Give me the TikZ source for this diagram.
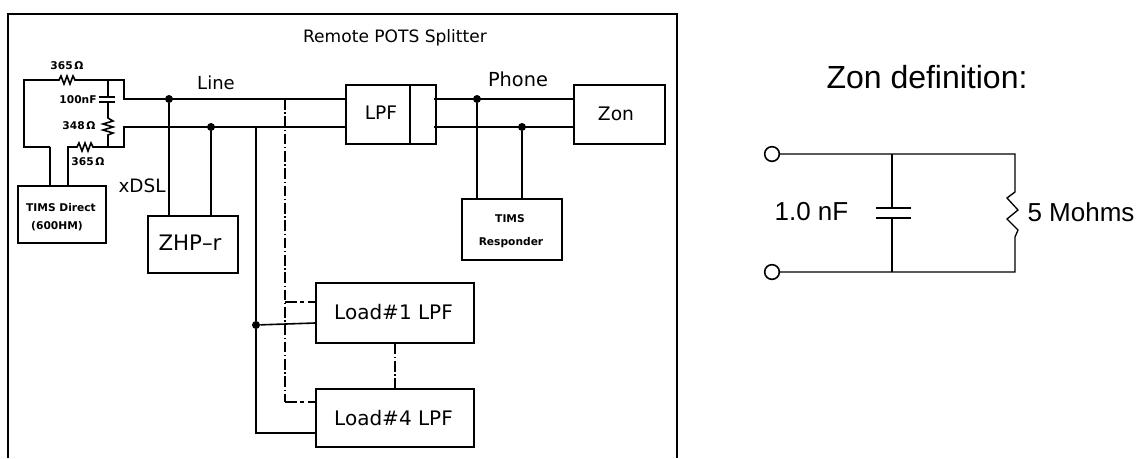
\documentclass[tikz,border=0pt]{standalone}
\usepackage{fontspec}
\setmainfont{DejaVu Sans}
\newfontfamily\arialf{Liberation Sans}
\tikzset{
  x=0.75pt,y=-0.75pt,
  wire/.style={line width=1.2pt,line join=miter},
  thin wire/.style={line width=1pt,line join=miter},
  bx/.style={draw,line width=1.2pt,inner sep=0pt,align=center},
  wh/.style 2 args={minimum width=#1*0.75pt,minimum height=#2*0.75pt},
  jn/.style={circle,fill=black,inner sep=0pt,minimum size=6pt},
  term/.style={circle,draw,fill=white,line width=1.2pt,inner sep=0pt,minimum size=11pt},
  cad/.style={node font=\fontsize{#1}{#1}\selectfont,inner sep=0pt},
  small/.style={node font=\fontsize{8}{8}\selectfont\bfseries,inner sep=0pt},
  dd/.style={line width=0.8pt,dash pattern=on 8pt off 2pt on 1pt off 2pt},
  ddb/.style={line width=1.6pt,dash pattern=on 9pt off 2.5pt on 2.5pt off 3pt},
  arial/.style={node font=\arialf\fontsize{#1}{#1}\selectfont,inner sep=0pt},
}
\begin{document}
\begin{tikzpicture}
\useasboundingbox (0,0) rectangle (1142,458);
% outer frame
\coordinate (fbl) at (8,458);
\coordinate (ftl) at (8,14);
\coordinate (ftr) at (677,14);
\coordinate (fbr) at (677,458);
\draw[wire] (fbl) -- (ftl) -- (ftr) -- (fbr);
\node[cad=12.8] (title) at (395,38) {Remote POTS Splitter};
% boxes
\node[bx,wh={88}{57}] (tims) at (62,214.5) {};
\node[small] (timst) at (61,208) {TIMS Direct};
\node[small] (timsu) at (57,226) {(600HM)};
\node[bx,wh={90}{57},cad=16] (zhp) at (193,244.5) {};
\node[cad=16] (zhpt) at (190,243) {ZHP--r};
\node[bx,wh={90}{59}] (lpf) at (391,114.5) {};
\coordinate (lpfdt) at (410,85);
\coordinate (lpfdb) at (410,144);
\draw[wire] (lpfdt) -- (lpfdb);
\node[cad=14] (lpft) at (381,113) {LPF};
\node[bx,wh={91}{59}] (zon) at (619.5,114.5) {};
\node[cad=14] (zont) at (616,114) {Zon};
\node[bx,wh={100}{61}] (resp) at (512,229.5) {};
\node[small] (respa) at (510,219) {TIMS};
\node[small] (respb) at (511,243) {Responder};
\node[bx,wh={158}{60}] (l1) at (395,313) {};
\node[cad=15] (l1t) at (393.5,312) {Load\#1 LPF};
\node[bx,wh={158}{58}] (l4) at (395,418) {};
\node[cad=15] (l4t) at (393.5,418) {Load\#4 LPF};
% junctions
\node[jn] (j1) at (169,99) {};
\node[jn] (j2) at (211,127) {};
\node[jn] (j3) at (477,99) {};
\node[jn] (j4) at (522,127) {};
\node[jn] (j5) at (256,325) {};
% test-set network corners
\coordinate (a) at (24,80);
\coordinate (b) at (24,147);
\coordinate (c) at (50,147);
\coordinate (d) at (68,147);
\coordinate (e) at (124,80);
\coordinate (f) at (124,99);
\coordinate (g) at (124,127);
\coordinate (h) at (124,147);
\coordinate (t1) at (108,80);
\coordinate (t2) at (108,147);
\coordinate (t3) at (256,127);
\coordinate (dash0) at (285,99);
\coordinate (dash1) at (285,302);
\coordinate (dash2) at (285,402);
\coordinate (lpfr1) at (434,99);
\coordinate (lpfr2) at (434,127);
% wires
\draw[wire] (c) -- (tims.north -| c);
\draw[wire] (c) -- (b) -- (a) -- (59,80) -- (61,76) -- (64,84) -- (67,76) -- (70,84) -- (73,76) -- (75,80) -- (e) -- (f) -- (lpf.west |- f);
\draw[wire] (tims.north -| d) -- (d) -- (77,147) -- (79,143) -- (82,151) -- (85,143) -- (88,151) -- (91,143) -- (93,147) -- (h) -- (g) -- (lpf.west |- g);
\draw[wire] (t1) -- (108,97);
\draw[wire] (99,97) -- (115,97);
\draw[wire] (99,102) -- (115,102);
\draw[wire] (108,102) -- (108,118) -- (113,121) -- (103,124) -- (113,127) -- (103,130) -- (113,133) -- (108,135) -- (t2);
\draw[wire] (j1) -- (j1 |- zhp.north);
\draw[wire] (j2) -- (j2 |- zhp.north);
\draw[wire] (t3) -- (j5);
\draw[wire] (j5) -- (t3 |- 0,433) -- (l4.west |- 0,433);
\draw[wire] (j5) -- (l1.west |- 0,323);
\draw[wire] (lpfr1) -- (zon.west |- lpfr1);
\draw[wire] (lpfr2) -- (zon.west |- lpfr2);
\draw[wire] (j3) -- (j3 |- resp.north);
\draw[wire] (j4) -- (j4 |- resp.north);
% dash-dot links
\draw[dd] (dash0) -- (dash2);
\draw[ddb] (dash1) -- (l1.west |- dash1);
\draw[ddb] (dash2) -- (l4.west |- dash2);
\draw[dd] (l1.south) -- (l4.north);
\draw[line width=2pt] (l1.south) -- ++(0,7);
% labels
\node[cad=13.5] (line) at (216,83) {Line};
\node[cad=14.5] (phone) at (518,79) {Phone};
\node[cad=13.8] (xdsl) at (142,186) {xDSL};
\node[small] (r1) at (67,66) {365\,Ω};
\node[small] (cv) at (78,100) {100nF};
\node[small] (r2) at (79,126) {348\,Ω};
\node[small] (r3) at (88,162) {365\,Ω};
% Zon definition
\node[arial=24] (ztitle) at (927,77) {Zon definition:};
\node[term] (p1) at (772,154) {};
\node[term] (p2) at (772,272) {};
\coordinate (q1) at (1015,154);
\coordinate (q2) at (1015,272);
\coordinate (c1) at (892,154);
\coordinate (c2) at (892,272);
\draw[thin wire] (p1) -- (q1) -- (1015,192) -- (1007,198) -- (1018,210) -- (1007,219) -- (1018,230) -- (1015,237) -- (q2) -- (p2);
\draw[thin wire] (c1) -- (892,208);
\draw[thin wire] (876,208) -- (911,208);
\draw[thin wire] (876,218) -- (911,218);
\draw[thin wire] (892,218) -- (c2);
\node[arial=19.5] (cval) at (811.5,212) {1.0 nF};
\node[arial=19.5] (rval) at (1081,212) {5 Mohms};
\end{tikzpicture}
\end{document}
